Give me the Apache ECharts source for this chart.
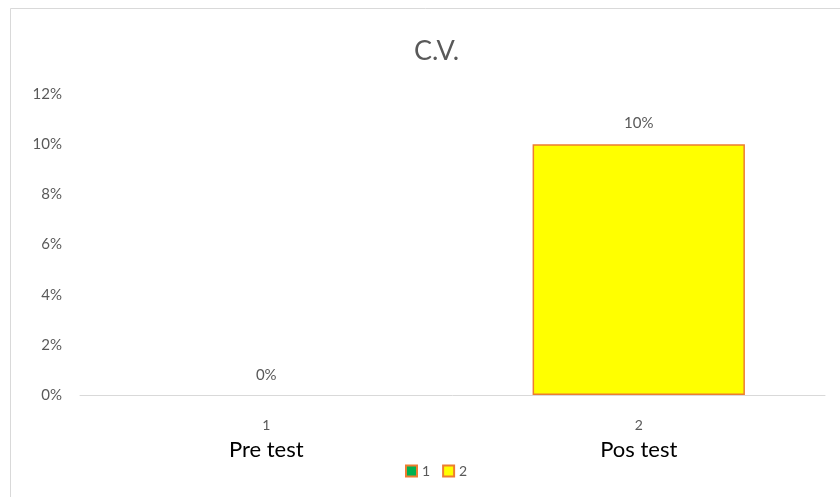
<!DOCTYPE html>
<html>
<head>
<meta charset="utf-8">
<script src="https://cdn.jsdelivr.net/npm/echarts@6/dist/echarts.min.js"></script>
<style>
  html, body { margin: 0; padding: 0; background: #fff; }
  #chart { width: 840px; height: 497px; }
</style>
</head>
<body>
<div id="chart"></div>
<script>
// categories and values
var tickNums = ['1', '2'];
var categories = ['Pre test', 'Pos test'];
var seriesNames = ['1', '2'];
var preValues = [0, null];
var posValues = [null, 0.10];
var yTicks = [0, 0.02, 0.04, 0.06, 0.08, 0.10, 0.12];

var chart = echarts.init(document.getElementById('chart'));

function pct(v) {
  return Math.round(v * 100) + '%';
}

// a zero bar draws nothing in the original, so drop its border
function toItems(arr) {
  return arr.map(function (v) {
    if (v === 0) return { value: v, itemStyle: { borderWidth: 0, color: 'rgba(0,0,0,0)' } };
    return v;
  });
}

var labelStyle = {
  show: true,
  position: 'top',
  color: '#595959',
  fontSize: 15,
  formatter: function (p) { return pct(p.value); }
};

var option = {
  backgroundColor: '#fff',
  textStyle: { fontFamily: 'Lato' },
  title: {
    text: 'C.V.',
    left: 409,
    top: 33,
    textStyle: { color: '#595959', fontSize: 27, fontWeight: 'normal', fontFamily: 'Lato' }
  },
  legend: {
    data: seriesNames,
    icon: 'rect',
    top: 459,
    left: 400,
    itemWidth: 11,
    itemHeight: 11,
    itemGap: 12,
    textStyle: { color: '#595959', fontSize: 14 }
  },
  grid: { left: 80, right: 15, top: 94, bottom: 102 },
  xAxis: {
    type: 'category',
    data: tickNums,
    axisLine: { lineStyle: { color: '#D9D9D9', width: 1 } },
    axisTick: { show: false },
    axisLabel: {
      margin: 19,
      formatter: function (v, i) {
        return '{n|' + v + '}\n{c|' + categories[i] + '}';
      },
      rich: {
        n: { color: '#595959', fontSize: 14, lineHeight: 22 },
        c: { color: '#000', fontSize: 22, lineHeight: 28 }
      }
    }
  },
  yAxis: {
    type: 'value',
    min: 0,
    max: 0.12,
    interval: 0.02,
    axisLine: { show: false },
    axisTick: { show: false },
    splitLine: { show: false },
    axisLabel: {
      color: '#595959',
      fontSize: 15,
      margin: 18,
      formatter: pct
    }
  },
  series: [{
    name: seriesNames[0],
    type: 'bar',
    stack: 'cv',
    barWidth: '57%',
    data: toItems(preValues),
    itemStyle: { color: '#00B050', borderColor: '#ED7D31', borderWidth: 1.5 },
    label: Object.assign({}, labelStyle, { distance: 12 })
  }, {
    name: seriesNames[1],
    type: 'bar',
    stack: 'cv',
    barWidth: '57%',
    data: toItems(posValues),
    itemStyle: { color: '#FFFF00', borderColor: '#ED7D31', borderWidth: 1.5 },
    label: Object.assign({}, labelStyle, { distance: 14 })
  }],
  graphic: [{
    type: 'polyline',
    silent: true,
    shape: { points: [[840, 8.5], [10.5, 8.5], [10.5, 497]] },
    style: { stroke: '#D9D9D9', fill: null, lineWidth: 1 }
  }]
};

chart.setOption(option);
</script>
</body>
</html>
